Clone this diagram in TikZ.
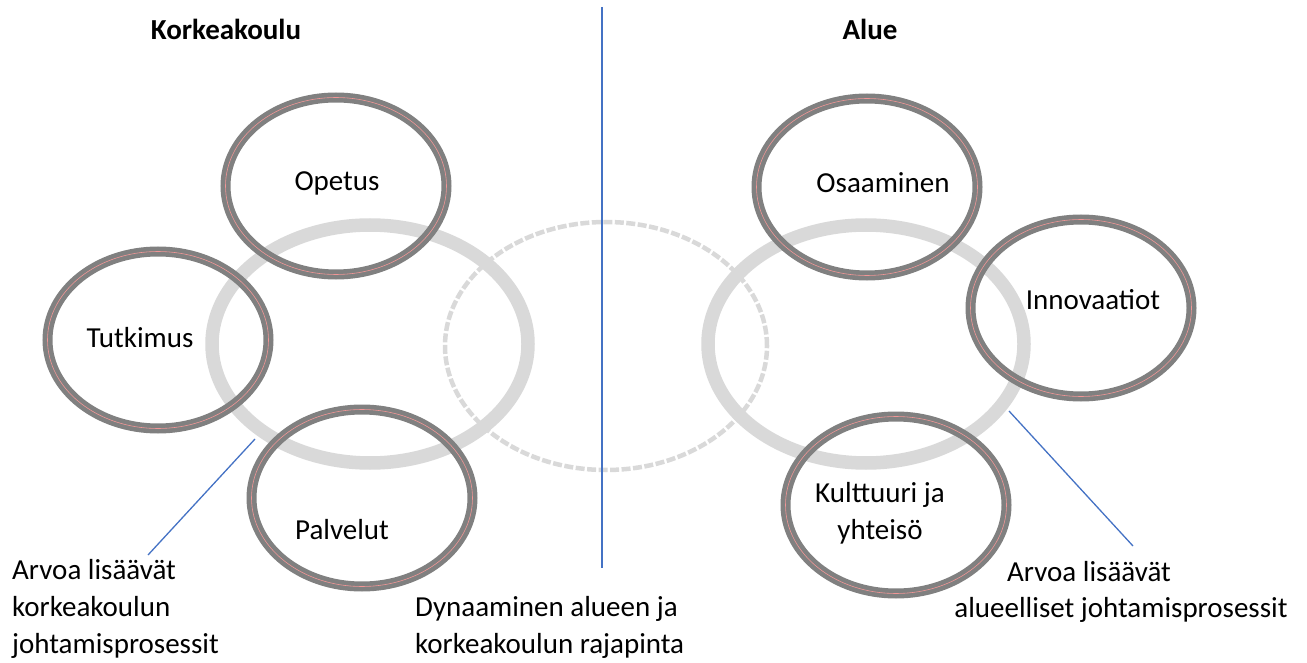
\documentclass[tikz,border=0pt]{standalone}
\usepackage{fontspec}
\setmainfont{Carlito}
\usetikzlibrary{shapes.geometric}
\definecolor{lgray}{RGB}{217,217,217}
\definecolor{dgray}{RGB}{128,128,128}
\definecolor{pinkline}{RGB}{240,150,150}
\definecolor{oblue}{RGB}{68,114,196}
\begin{document}
\begin{tikzpicture}[x=1pt,y=-1pt,
  bigring/.style={ellipse, draw=lgray, line width=13.5pt, minimum width=316pt, minimum height=238pt, inner sep=0pt},
  dashring/.style={ellipse, draw=lgray, line width=4.5pt, dash pattern=on 9pt off 2.5pt, minimum width=322pt, minimum height=248pt, inner sep=0pt},
  darkring/.style={ellipse, draw=dgray, line width=10pt, minimum width=221pt, minimum height=177pt, inner sep=0pt,
     postaction={draw=pinkline, line width=0.6pt}},
  lbl/.style={font=\fontsize{29}{37}\selectfont, inner sep=0pt},
  ttl/.style={font=\fontsize{29}{37}\selectfont\bfseries, inner sep=0pt},
  leader/.style={draw=oblue, line width=1.3pt}]
\useasboundingbox (0,0) rectangle (1307,663);
% big light rings
\node[bigring] (bigL) at (370,344) {};
\node[bigring] (bigR) at (866,344) {};
\node[dashring] (mid) at (606,346) {};
% dark rings
\node[darkring] (opetus) at (336,186) {};
\node[darkring] (tutkimus) at (158,340) {};
\node[darkring] (palvelut) at (362,498) {};
\node[darkring] (osaaminen) at (867,187) {};
\node[darkring] (innov) at (1081,308) {};
\node[darkring] (kult) at (896,505) {};
% ring texts
\node[lbl] (topetus) at (337,183) {Opetus};
\node[lbl] (ttutkimus) at (140,338) {Tutkimus};
\node[lbl] (tpalvelut) at (342,530) {Palvelut};
\node[lbl] (tosaaminen) at (883,183) {Osaaminen};
\node[lbl] (tinnov) at (1093,300) {Innovaatiot};
\node[lbl, align=center] (tkult) at (880,513) {Kulttuuri ja\\yhteisö};
% titles
\node[ttl] (korkea) at (226,29) {Korkeakoulu};
\node[ttl] (alue) at (870,29) {Alue};
% divider
\coordinate (vtop) at (602,7);
\coordinate (vbot) at (602,568);
\draw[leader] (vtop) -- (vbot);
% bottom labels
\node[lbl, anchor=north west, align=left] (lab1) at (12,559) {Arvoa lisäävät\\korkeakoulun\\johtamisprosessit};
\node[lbl, anchor=north west, align=left] (lab2) at (415,596) {Dynaaminen alueen ja\\korkeakoulun rajapinta};
\node[lbl, anchor=north] (lab3a) at (1089,561) {Arvoa lisäävät};
\node[lbl, anchor=north] (lab3b) at (1121,597) {alueelliset johtamisprosessit};
% leaders
\coordinate (l1s) at (255,439);
\coordinate (l1e) at (148,555);
\coordinate (l2s) at (1009,411);
\coordinate (l2e) at (1133,546);
\draw[leader] (l1s) -- (l1e);
\draw[leader] (l2s) -- (l2e);
\end{tikzpicture}
\end{document}
